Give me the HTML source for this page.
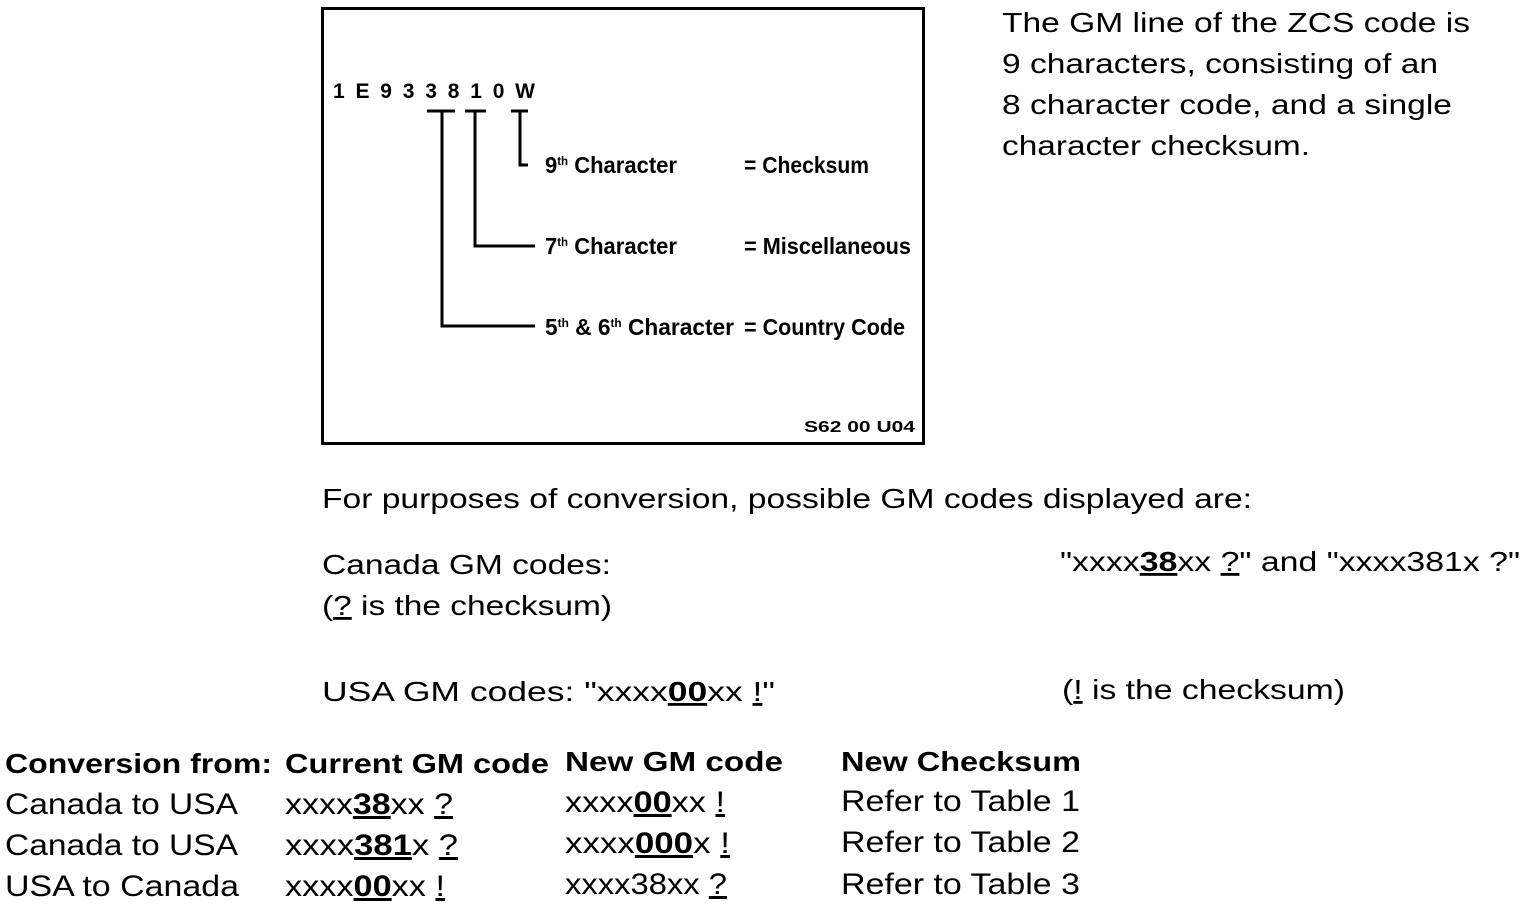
<!DOCTYPE html>
<html><head><style>
html,body{margin:0;padding:0;background:#fff;width:1536px;height:906px;overflow:hidden}
svg{display:block}
text{font-family:"Liberation Sans",Arial,sans-serif;fill:#000}
.u{text-decoration:underline}
</style></head><body>
<svg width="1536" height="906" viewBox="0 0 1536 906" xmlns="http://www.w3.org/2000/svg">
<rect x="322.5" y="8.5" width="601" height="435" fill="none" stroke="#000" stroke-width="3"/>
<text x="333" y="98" font-size="21" font-weight="bold" textLength="202" lengthAdjust="spacing">1E933810W</text>
<g stroke="#000" stroke-width="3" fill="none">
<path d="M427 111H455M442 111V326H535"/>
<path d="M465 111H486M475 111V246H535"/>
<path d="M511 111H528M520 111V165H528"/>
</g>
<g font-size="23" font-weight="bold">
<text x="545" y="173" textLength="132" lengthAdjust="spacingAndGlyphs">9<tspan font-size="12" dy="-8">th</tspan><tspan dy="8"> Character</tspan></text>
<text x="744" y="173" textLength="125" lengthAdjust="spacingAndGlyphs">= Checksum</text>
<text x="545" y="254" textLength="132" lengthAdjust="spacingAndGlyphs">7<tspan font-size="12" dy="-8">th</tspan><tspan dy="8"> Character</tspan></text>
<text x="744" y="254" textLength="167" lengthAdjust="spacingAndGlyphs">= Miscellaneous</text>
<text x="545" y="335" textLength="189" lengthAdjust="spacingAndGlyphs">5<tspan font-size="12" dy="-8">th</tspan><tspan dy="8"> &amp; 6</tspan><tspan font-size="12" dy="-8">th</tspan><tspan dy="8"> Character</tspan></text>
<text x="744" y="335" textLength="161" lengthAdjust="spacingAndGlyphs">= Country Code</text>
</g>
<text x="804" y="432" font-size="16" font-weight="bold" textLength="111" lengthAdjust="spacingAndGlyphs">S62 00 U04</text>
<g font-size="28">
<text x="1002" y="32" textLength="468" lengthAdjust="spacingAndGlyphs">The GM line of the ZCS code is</text>
<text x="1002" y="73" textLength="436" lengthAdjust="spacingAndGlyphs">9 characters, consisting of an</text>
<text x="1002" y="114" textLength="450" lengthAdjust="spacingAndGlyphs">8 character code, and a single</text>
<text x="1002" y="155" textLength="308" lengthAdjust="spacingAndGlyphs">character checksum.</text>
<text x="322" y="508" textLength="930" lengthAdjust="spacingAndGlyphs">For purposes of conversion, possible GM codes displayed are:</text>
<text x="322" y="574" textLength="289" lengthAdjust="spacingAndGlyphs">Canada GM codes:</text>
<text x="1060" y="571" textLength="460" lengthAdjust="spacingAndGlyphs">"xxxx<tspan font-weight="bold" class="u">38</tspan>xx <tspan class="u">?</tspan>" and "xxxx381x ?"</text>
<text x="322" y="615" textLength="290" lengthAdjust="spacingAndGlyphs">(<tspan class="u">?</tspan> is the checksum)</text>
<text x="322" y="701" textLength="453" lengthAdjust="spacingAndGlyphs">USA GM codes:   "xxxx<tspan font-weight="bold" class="u">00</tspan>xx <tspan class="u">!</tspan>"</text>
<text x="1062" y="699" textLength="283" lengthAdjust="spacingAndGlyphs">(<tspan class="u">!</tspan> is the checksum)</text>
</g>
<g font-size="28" font-weight="bold">
<text x="5" y="773" textLength="267" lengthAdjust="spacingAndGlyphs">Conversion from:</text>
<text x="285" y="773" textLength="264" lengthAdjust="spacingAndGlyphs">Current GM code</text>
<text x="565" y="771" textLength="218" lengthAdjust="spacingAndGlyphs">New GM code</text>
<text x="841" y="771" textLength="240" lengthAdjust="spacingAndGlyphs">New Checksum</text>
</g>
<g font-size="30">
<text x="5" y="814" textLength="233" lengthAdjust="spacingAndGlyphs">Canada to USA</text>
<text x="5" y="855" textLength="233" lengthAdjust="spacingAndGlyphs">Canada to USA</text>
<text x="5" y="896" textLength="234" lengthAdjust="spacingAndGlyphs">USA to Canada</text>
<text x="285" y="814" textLength="168" lengthAdjust="spacingAndGlyphs">xxxx<tspan font-weight="bold" class="u">38</tspan>xx <tspan class="u">?</tspan></text>
<text x="285" y="855" textLength="173" lengthAdjust="spacingAndGlyphs">xxxx<tspan font-weight="bold" class="u">381</tspan>x <tspan class="u">?</tspan></text>
<text x="285" y="896" textLength="160" lengthAdjust="spacingAndGlyphs">xxxx<tspan font-weight="bold" class="u">00</tspan>xx <tspan class="u">!</tspan></text>
<text x="565" y="812" textLength="160" lengthAdjust="spacingAndGlyphs">xxxx<tspan font-weight="bold" class="u">00</tspan>xx <tspan class="u">!</tspan></text>
<text x="565" y="853" textLength="165" lengthAdjust="spacingAndGlyphs">xxxx<tspan font-weight="bold" class="u">000</tspan>x <tspan class="u">!</tspan></text>
<text x="565" y="894" textLength="162" lengthAdjust="spacingAndGlyphs">xxxx38xx <tspan class="u">?</tspan></text>
<text x="841" y="811" textLength="239" lengthAdjust="spacingAndGlyphs">Refer to Table 1</text>
<text x="841" y="852" textLength="239" lengthAdjust="spacingAndGlyphs">Refer to Table 2</text>
<text x="841" y="894" textLength="239" lengthAdjust="spacingAndGlyphs">Refer to Table 3</text>
</g>
</svg>
</body></html>
